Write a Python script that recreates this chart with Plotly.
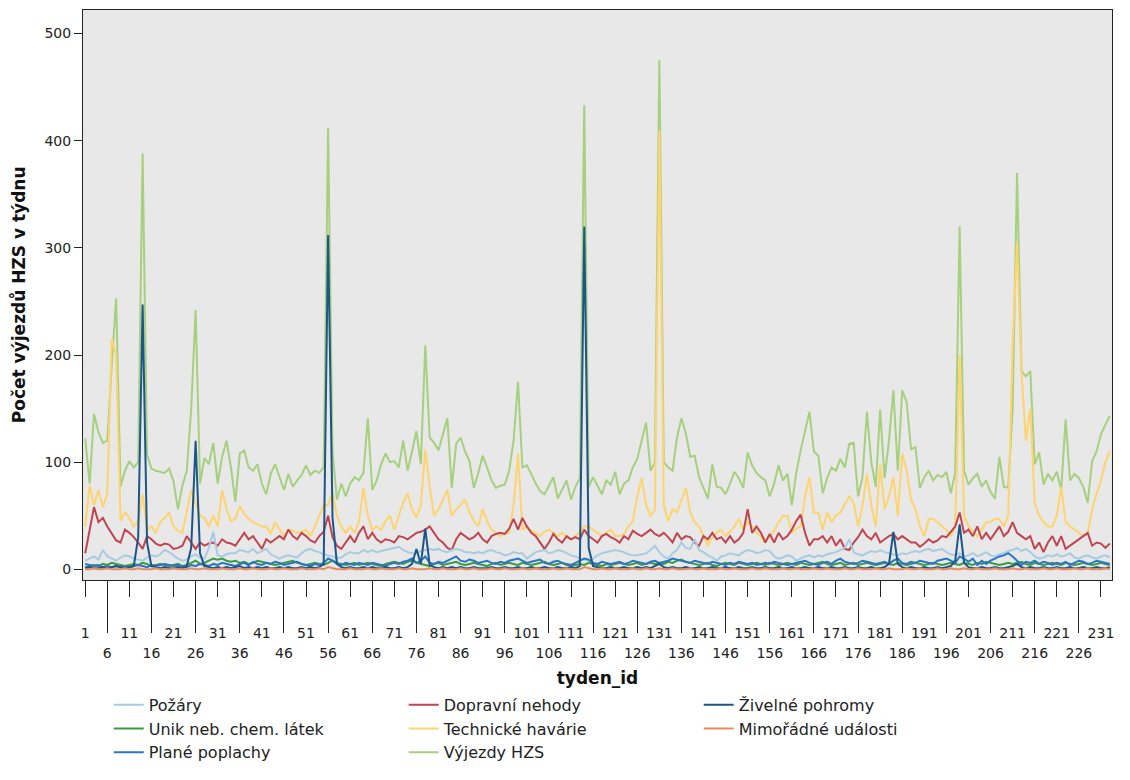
import plotly.graph_objects as go

weeks = list(range(1, 234))
tick_row1 = list(range(1, 234, 10))
tick_row2 = list(range(6, 234, 10))
y_ticks = [0, 100, 200, 300, 400, 500]

vyjezdy_hzs = [
    122, 80, 145, 128, 118, 120, 190, 253, 77, 92,
    101, 95, 100, 388, 107, 94, 92, 91, 90, 94,
    82, 56, 78, 92, 150, 242, 80, 104, 98, 118,
    80, 105, 120, 95, 63, 108, 111, 95, 92, 98,
    80, 70, 89, 98, 85, 74, 89, 77, 83, 88,
    97, 88, 92, 90, 95, 412, 110, 65, 80, 68,
    80, 86, 83, 90, 141, 74, 83, 98, 108, 100,
    101, 95, 120, 92, 110, 129, 98, 209, 123, 118,
    111, 125, 141, 76, 117, 123, 110, 101, 76, 90,
    106, 95, 83, 76, 78, 79, 92, 120, 175, 95,
    97, 89, 80, 73, 70, 78, 86, 66, 75, 83,
    65, 77, 85, 433, 77, 86, 78, 70, 83, 79,
    91, 70, 80, 83, 95, 103, 120, 137, 92, 100,
    475, 100, 95, 92, 123, 141, 127, 105, 106, 86,
    76, 66, 98, 77, 76, 70, 80, 91, 85, 76,
    109, 97, 90, 86, 83, 68, 80, 97, 83, 89,
    60, 90, 111, 130, 147, 110, 106, 71, 85, 95,
    92, 103, 95, 117, 118, 68, 86, 147, 100, 77,
    149, 85, 120, 167, 92, 167, 156, 112, 114, 76,
    86, 92, 83, 88, 86, 91, 71, 90, 320, 92,
    79, 85, 89, 77, 83, 72, 66, 105, 77, 76,
    150, 370, 185, 180, 185, 98, 109, 79, 89, 83,
    91, 74, 140, 83, 89, 85, 77, 62, 101, 110,
    126, 135, 143,
]

technicke_havarie = [
    40, 78, 60, 74, 58, 70, 215, 200, 45, 53,
    48, 40, 45, 70, 37, 40, 34, 44, 48, 53,
    40, 36, 34, 55, 74, 62, 50, 48, 40, 50,
    40, 74, 56, 45, 47, 59, 52, 47, 44, 42,
    40, 40, 33, 44, 38, 31, 37, 36, 34, 35,
    37, 31, 40, 50, 60, 60, 71, 50, 40, 34,
    40, 34, 45, 76, 50, 37, 40, 37, 45, 50,
    37, 50, 62, 71, 56, 48, 60, 112, 77, 50,
    56, 65, 74, 50, 56, 60, 65, 53, 45, 40,
    56, 45, 37, 34, 31, 33, 34, 60, 108, 37,
    40, 36, 34, 31, 35, 37, 34, 31, 34, 30,
    28, 31, 35, 40, 40, 37, 34, 31, 34, 37,
    31, 31, 33, 40, 45, 68, 85, 60, 50, 55,
    410, 60, 45, 56, 53, 65, 76, 53, 44, 40,
    31, 22, 30, 34, 37, 31, 35, 40, 47, 37,
    44, 40, 34, 30, 25, 31, 36, 44, 50, 50,
    34, 38, 40, 68, 86, 53, 53, 37, 53, 44,
    50, 53, 60, 68, 62, 40, 59, 89, 60, 40,
    98, 56, 68, 86, 50, 108, 92, 65, 56, 40,
    31, 47, 47, 44, 40, 37, 31, 40, 200, 50,
    40, 35, 31, 37, 44, 44, 47, 47, 40, 50,
    210, 305, 185, 120, 150, 62, 50, 44, 40, 40,
    50, 77, 44, 40, 37, 34, 31, 33, 56, 70,
    83, 100, 110,
]

dopravni_nehody = [
    15, 37, 58, 44, 48, 40, 34, 27, 25, 37,
    34, 30, 25, 19, 31, 28, 24, 22, 24, 23,
    19, 20, 22, 31, 25, 19, 25, 22, 24, 25,
    22, 28, 25, 24, 22, 28, 34, 28, 31, 25,
    19, 28, 25, 28, 31, 28, 37, 31, 28, 34,
    31, 27, 25, 31, 35, 50, 30, 22, 19, 25,
    31, 25, 34, 40, 28, 34, 28, 25, 28, 27,
    25, 31, 30, 28, 31, 34, 35, 37, 40, 34,
    28, 25, 20, 18, 28, 34, 31, 28, 30, 34,
    28, 25, 31, 33, 34, 33, 38, 47, 37, 48,
    40, 34, 31, 25, 19, 25, 33, 28, 25, 31,
    28, 30, 28, 37, 31, 28, 25, 31, 33, 30,
    28, 25, 31, 28, 36, 33, 31, 34, 37, 33,
    31, 34, 30, 25, 34, 28, 31, 30, 25, 22,
    31, 28, 34, 28, 30, 25, 31, 25, 28, 34,
    56, 34, 40, 34, 25, 33, 25, 34, 28, 31,
    37, 45, 51, 34, 22, 28, 28, 31, 25, 31,
    22, 28, 19, 18, 25, 30, 37, 31, 28, 34,
    25, 28, 31, 33, 28, 31, 28, 25, 25, 21,
    24, 28, 25, 27, 31, 30, 35, 40, 53, 34,
    37, 31, 40, 28, 34, 28, 34, 40, 31, 35,
    44, 34, 31, 28, 31, 19, 25, 16, 25, 31,
    22, 31, 19, 22, 25, 28, 31, 34, 22, 25,
    24, 20, 24,
]

pozary = [
    8, 10, 12, 9, 18, 12, 10, 8, 11, 13,
    12, 10, 9, 8, 11, 13, 12, 14, 18, 16,
    13, 10, 8, 9, 12, 14, 11, 10, 20, 35,
    13, 12, 14, 15, 15, 18, 17, 16, 19, 15,
    17, 19, 14, 12, 10, 12, 13, 12, 11, 15,
    18, 19, 17, 16, 14, 13, 12, 10, 11, 14,
    16, 15, 15, 18, 16, 18, 16, 17, 18, 19,
    20, 21, 18, 16, 15, 15, 17, 18, 19, 18,
    19, 17, 16, 18, 19, 18, 16, 16, 15, 16,
    15, 17, 18, 16, 15, 13, 14, 16, 15, 15,
    10, 13, 16, 17, 18, 15, 16, 18, 17, 15,
    13, 12, 10, 9, 8, 10, 13, 15, 16, 17,
    18, 17, 16, 14, 13, 13, 14, 15, 18, 22,
    16, 12, 10, 15, 18, 25, 20, 19, 28, 18,
    16, 13, 11, 8, 12, 13, 15, 14, 13, 16,
    18, 17, 15, 16, 18, 17, 12, 10, 11, 13,
    12, 8, 10, 12, 13, 11, 13, 12, 14, 15,
    16, 18, 20, 28, 16, 14, 13, 15, 17, 16,
    18, 16, 15, 14, 13, 15, 14, 16, 17, 16,
    18, 19, 17, 18, 19, 16, 14, 13, 15, 12,
    13, 15, 12, 14, 16, 13, 12, 14, 15, 17,
    18, 20, 17, 19, 16, 12, 10, 11, 13, 12,
    14, 12, 13, 15, 11, 10, 12, 13, 11, 10,
    12, 13, 11,
]

unik_chem_latek = [
    2, 3, 4, 3, 5, 4, 6, 5, 4, 3,
    4, 5, 4, 6, 5, 3, 4, 5, 4, 3,
    4, 5, 3, 4, 6, 8, 5, 6, 8, 10,
    9, 10, 8, 7, 8, 6, 7, 5, 6, 8,
    7, 6, 5, 4, 5, 6, 7, 8, 6, 5,
    4, 5, 6, 5, 4, 6, 8, 6, 5, 4,
    5, 6, 4, 5, 6, 5, 4, 3, 5, 6,
    7, 6, 5, 7, 8, 6, 5, 4, 3, 5,
    6, 4, 5, 6, 7, 5, 4, 5, 6, 5,
    4, 3, 5, 6, 4, 5, 6, 5, 4, 6,
    5, 4, 5, 6, 7, 5, 4, 5, 6, 4,
    3, 4, 5, 4, 6, 5, 4, 3, 5, 4,
    5, 6, 5, 4, 5, 6, 4, 5, 6, 5,
    6, 5, 7, 6, 8, 9, 7, 6, 5, 4,
    5, 6, 4, 3, 5, 6, 5, 4, 6, 5,
    4, 5, 6, 5, 4, 6, 5, 4, 5, 6,
    5, 4, 6, 5, 4, 5, 6, 7, 5, 4,
    5, 6, 4, 5, 6, 4, 5, 6, 5, 4,
    5, 6, 5, 4, 6, 5, 4, 5, 6, 5,
    4, 5, 6, 5, 4, 5, 6, 5, 4, 6,
    5, 4, 6, 5, 7, 6, 5, 4, 5, 6,
    5, 6, 7, 5, 4, 6, 5, 4, 5, 6,
    5, 4, 6, 5, 4, 5, 6, 5, 4, 5,
    6, 5, 4,
]

plane_poplachy = [
    5, 4, 3, 4, 2, 3, 2, 3, 2, 3,
    2, 3, 4, 3, 2, 4, 3, 4, 5, 4,
    3, 4, 3, 2, 4, 3, 5, 4, 3, 5,
    4, 6, 5, 4, 3, 5, 6, 4, 7, 5,
    4, 6, 5, 7, 6, 4, 5, 6, 7, 5,
    4, 3, 5, 4, 6, 10, 8, 5, 4, 6,
    5, 4, 6, 5, 4, 6, 5, 4, 3, 5,
    6, 5, 7, 8, 10, 6, 8, 12, 6, 5,
    7, 6, 8, 10, 12, 8, 7, 9, 8, 6,
    7, 8, 6, 5, 7, 6, 8, 9, 10, 8,
    6, 7, 8, 9, 6, 5, 7, 8, 6, 5,
    4, 6, 8, 10, 9, 6, 5, 7, 6, 5,
    6, 7, 5, 6, 8, 7, 6, 5, 7, 8,
    6, 7, 8, 10, 9, 8, 7, 6, 8, 7,
    6, 5, 7, 6, 5, 4, 6, 5, 7, 6,
    5, 6, 4, 5, 6, 5, 7, 6, 5, 4,
    5, 6, 7, 8, 6, 5, 4, 6, 7, 5,
    8, 10, 7, 6, 5, 6, 8, 7, 6, 5,
    6, 7, 5, 8, 10, 6, 5, 7, 6, 8,
    7, 6, 5, 8, 9, 10, 8, 6, 12, 10,
    7, 10, 4, 8, 5, 8, 10, 12, 13, 15,
    12, 8, 4, 7, 6, 8, 5, 7, 6, 4,
    6, 5, 7, 4, 6, 8, 7, 5, 6, 8,
    7, 6, 5,
]

zivelne_pohromy = [
    1, 2, 1, 1, 2, 1, 2, 3, 2, 1,
    2, 3, 30, 247, 25, 3, 2, 1, 2, 1,
    1, 2, 1, 3, 20, 120, 15, 3, 2, 1,
    2, 1, 2, 1, 2, 3, 1, 2, 1, 2,
    1, 2, 1, 1, 2, 1, 2, 1, 1, 2,
    1, 2, 1, 2, 5, 312, 48, 5, 2, 1,
    2, 1, 1, 2, 1, 2, 1, 1, 2, 1,
    1, 2, 1, 2, 5, 19, 5, 38, 4, 2,
    1, 2, 1, 2, 1, 2, 1, 1, 2, 1,
    1, 1, 2, 1, 1, 2, 1, 1, 2, 1,
    1, 2, 1, 1, 2, 1, 1, 2, 1, 1,
    2, 1, 3, 320, 20, 3, 2, 1, 1, 2,
    1, 1, 2, 1, 1, 2, 1, 2, 1, 3,
    5, 2, 1, 2, 1, 1, 2, 1, 1, 2,
    1, 1, 2, 1, 1, 2, 1, 1, 2, 1,
    1, 2, 1, 1, 2, 1, 1, 2, 1, 1,
    2, 1, 1, 2, 1, 1, 2, 1, 1, 2,
    1, 1, 2, 1, 1, 2, 1, 1, 2, 1,
    1, 2, 5, 35, 5, 2, 1, 2, 1, 1,
    2, 1, 1, 2, 1, 2, 3, 8, 42, 6,
    2, 1, 1, 2, 1, 1, 2, 1, 1, 2,
    3, 5, 2, 1, 2, 1, 1, 2, 1, 1,
    2, 1, 1, 2, 1, 1, 2, 1, 1, 2,
    1, 1, 2,
]

mimoradne_udalosti = [
    0, 0, 1, 0, 0, 1, 0, 0, 0, 1,
    0, 0, 1, 0, 0, 0, 1, 0, 0, 0,
    1, 0, 0, 0, 1, 0, 0, 1, 0, 0,
    0, 1, 0, 0, 0, 1, 0, 0, 1, 0,
    0, 0, 1, 0, 0, 1, 0, 0, 0, 1,
    0, 0, 0, 1, 0, 2, 1, 0, 0, 0,
    1, 0, 0, 0, 1, 0, 0, 1, 0, 0,
    0, 1, 0, 0, 1, 0, 0, 0, 1, 0,
    0, 1, 0, 0, 0, 1, 0, 0, 1, 0,
    0, 0, 1, 0, 0, 1, 0, 0, 0, 1,
    0, 0, 1, 0, 0, 0, 1, 0, 0, 1,
    0, 0, 0, 2, 1, 0, 0, 1, 0, 0,
    1, 0, 0, 0, 1, 0, 0, 1, 0, 0,
    1, 0, 0, 1, 0, 0, 0, 1, 0, 0,
    1, 0, 0, 0, 1, 0, 0, 1, 0, 0,
    0, 1, 0, 0, 1, 0, 0, 0, 1, 0,
    0, 1, 0, 0, 0, 1, 0, 0, 1, 0,
    0, 0, 1, 0, 0, 1, 0, 0, 0, 1,
    0, 0, 1, 0, 0, 0, 1, 0, 0, 1,
    0, 0, 0, 1, 0, 0, 1, 0, 0, 1,
    0, 0, 1, 0, 0, 0, 1, 0, 0, 0,
    1, 0, 0, 1, 0, 0, 0, 1, 0, 0,
    1, 0, 0, 0, 1, 0, 0, 1, 0, 0,
    0, 1, 0,
]

# (name, data, colour, legend rank) in drawing order
series = [
    ("Výjezdy HZS", vyjezdy_hzs, "#a6cf7e", 8),
    ("Technické havárie", technicke_havarie, "#fdd46e", 5),
    ("Dopravní nehody", dopravni_nehody, "#c04552", 2),
    ("Požáry", pozary, "#a8cbe4", 1),
    ("Unik neb. chem. látek", unik_chem_latek, "#3b9c3f", 4),
    ("Plané poplachy", plane_poplachy, "#2a76c6", 7),
    ("Živelné pohromy", zivelne_pohromy, "#1c5688", 3),
    ("Mimořádné události", mimoradne_udalosti, "#e88a5c", 6),
]

FONT = "DejaVu Sans"
fig = go.Figure()
for name, data, color, rank in series:
    fig.add_trace(go.Scatter(
        x=weeks, y=data, mode="lines", name=name,
        line=dict(color=color, width=2), legendrank=rank,
    ))

# invisible carriers for the two staggered tick-label rows
for ax in ("x2", "x3"):
    fig.add_trace(go.Scatter(x=weeks, y=vyjezdy_hzs, xaxis=ax, mode="lines",
                             opacity=0, showlegend=False, hoverinfo="skip",
                             line=dict(width=0)))

xr = [weeks[0] - 0.5, weeks[-1] + 0.5]
fig.update_layout(
    width=1130, height=780,
    margin=dict(l=83, r=18, t=10, b=188),
    paper_bgcolor="white", plot_bgcolor="#e8e8e8",
    font=dict(family=FONT, size=14, color="#222"),
    showlegend=True,
    xaxis=dict(range=xr, showticklabels=False, ticks="", showline=True, mirror=True,
               linecolor="#222", linewidth=1, showgrid=False, zeroline=False),
    xaxis2=dict(range=xr, overlaying="x", anchor="y", side="bottom",
                tickmode="array", tickvals=tick_row1, ticktext=[str(t) for t in tick_row1],
                ticks="outside", ticklen=16, tickcolor="#222", showline=False,
                ticklabelstandoff=24,
                showgrid=False, zeroline=False, tickfont=dict(size=14, color="#222")),
    xaxis3=dict(range=xr, overlaying="x", anchor="y", side="bottom",
                tickmode="array", tickvals=tick_row2, ticktext=[str(t) for t in tick_row2],
                ticks="outside", ticklen=52, tickcolor="#222", showline=False,
                ticklabelstandoff=8,
                showgrid=False, zeroline=False, tickfont=dict(size=14, color="#222"),
                title=dict(text="<b>tyden_id</b>", font=dict(size=17, color="#111"), standoff=12)),
    yaxis=dict(range=[-10, 522], tickmode="array", tickvals=y_ticks,
               ticks="outside", ticklen=8, tickcolor="#222", showline=True, mirror=True,
               linecolor="#222", linewidth=1, showgrid=False, zeroline=False,
               tickfont=dict(size=14, color="#222")),
    legend=dict(orientation="h", x=0.025, y=-0.189, xanchor="left", yanchor="top",
                entrywidth=250, entrywidthmode="pixels", font=dict(size=16, color="#222"),
                traceorder="normal", bgcolor="rgba(0,0,0,0)", tracegroupgap=0),
    annotations=[dict(text="<b>Počet výjezdů HZS v týdnu</b>", textangle=-90,
                      xref="paper", yref="paper", x=-0.063, y=0.5,
                      xanchor="center", yanchor="middle", showarrow=False,
                      font=dict(size=17, color="#111"))],
)

fig.write_html("out.html")
